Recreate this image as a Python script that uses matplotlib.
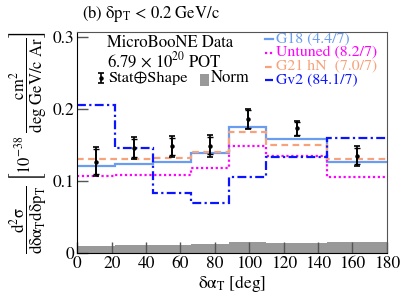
import numpy as np
import matplotlib
matplotlib.use("Agg")
import matplotlib.pyplot as plt

plt.rcParams['font.family'] = 'STIXGeneral'
plt.rcParams['mathtext.fontset'] = 'stix'

# bin edges in delta alpha_T [deg]
edges = [0, 22, 44, 66, 88, 110, 145, 180]
centers = [11, 33, 55, 77, 99, 127.5, 162.5]

# data (10^-38 cm2 / deg GeV/c Ar)
data = [0.127, 0.146, 0.148, 0.149, 0.186, 0.173, 0.135]
err_tot = [0.020, 0.015, 0.014, 0.015, 0.014, 0.011, 0.0135]
err_stat = [0.017, 0.012, 0.012, 0.012, 0.012, 0.009, 0.011]
norm = [0.0102, 0.0106, 0.011, 0.0125, 0.0148, 0.0134, 0.0157]

# generator predictions
g18 = [0.121, 0.124, 0.126, 0.139, 0.175, 0.158, 0.127]
untuned = [0.107, 0.108, 0.108, 0.118, 0.149, 0.135, 0.105]
g21hn = [0.130, 0.131, 0.132, 0.140, 0.168, 0.150, 0.131]
gv2 = [0.205, 0.146, 0.084, 0.070, 0.106, 0.134, 0.160]

labels = ['G18 (4.4/7)', 'Untuned (8.2/7)', 'G21 hN  (7.0/7)', 'Gv2 (84.1/7)']
colors = ['#6a9cf0', '#ff00ff', '#f7a27a', '#0a14ff']
styles = ['-', (0, (1, 1.2)), (0, (3, 2)), (0, (4, 1.5, 1, 1.5))]

fig = plt.figure(figsize=(4.07, 2.95), dpi=100)
ax = fig.add_axes([0.19, 0.1424, 0.7603, 0.7491])

ax.stairs(norm, edges, fill=True, color='#999999', lw=0)

for vals, c, ls in zip([g18, untuned, g21hn, gv2], colors, styles):
    ax.stairs(vals, edges, color=c, ls=ls, lw=1.6, baseline=None)

ax.errorbar(centers, data, yerr=err_tot, fmt='o', ms=2.2, color='black',
            elinewidth=1.2, capsize=2, capthick=1.2, zorder=5)
ax.errorbar(centers, data, yerr=err_stat, fmt='none', color='black',
            elinewidth=1.2, capsize=2, capthick=1.0, zorder=5)

ax.set_xlim(0, 180)
ax.set_ylim(0, 0.307)
ax.set_xticks(np.arange(0, 181, 20))
ax.set_yticks([0, 0.1, 0.2, 0.3])
ax.set_yticklabels(['0', '0.1', '0.2', '0.3'])
ax.tick_params(direction='in', length=8, width=1, color='#555555',
               labelsize=12.5, pad=2)
for s in ax.spines.values():
    s.set_color('#555555')
ax.spines['left'].set_color('black')
ax.spines['bottom'].set_color('black')

ax.set_xlabel(r'$\mathrm{\delta\alpha_{T}}$ [deg]', fontsize=12.5, labelpad=1)
ax.set_ylabel(r'$\mathrm{\dfrac{d^{2}\sigma}{d\delta\alpha_{T}d\delta p_{T}}}\ '
              r'\left[10^{-38}\ \mathrm{\dfrac{cm^{2}}{deg\ GeV/c\ Ar}}\right]$',
              fontsize=12, labelpad=2)

fig.text(0.202, 0.955, r'(b) $\mathrm{\delta p_{T}}$ < 0.2 GeV/c', fontsize=12,
         va='center', ha='left')

# data block text
tr = ax.transAxes
ax.text(0.096, 0.950, 'MicroBooNE Data', transform=tr, fontsize=12, va='center')
ax.text(0.096, 0.869, r'6.79 $\times$ 10$^{20}$ POT', transform=tr, fontsize=12,
        va='center')
ax.errorbar([0.0756], [0.792], yerr=[0.024], fmt='o', ms=2.2, color='black',
            elinewidth=1.2, capsize=2, capthick=1.2, transform=tr, clip_on=False)
ax.text(0.099, 0.792, 'Stat\u2295Shape', transform=tr, fontsize=11.8, va='center')
ax.add_patch(plt.Rectangle((0.397, 0.756), 0.030, 0.054, transform=tr,
                           color='#999999', lw=0))
ax.text(0.433, 0.792, 'Norm', transform=tr, fontsize=12, va='center')

# legend
ys = [0.968, 0.905, 0.843, 0.783]
for lab, c, ls, yy in zip(labels, colors, styles, ys):
    ax.plot([0.608, 0.632], [yy, yy], color=c, ls=ls, lw=1.6, transform=tr)
    ax.text(0.642, yy, lab, color=c, transform=tr, fontsize=11.3, va='center')

fig.savefig('out.png', dpi=100)
